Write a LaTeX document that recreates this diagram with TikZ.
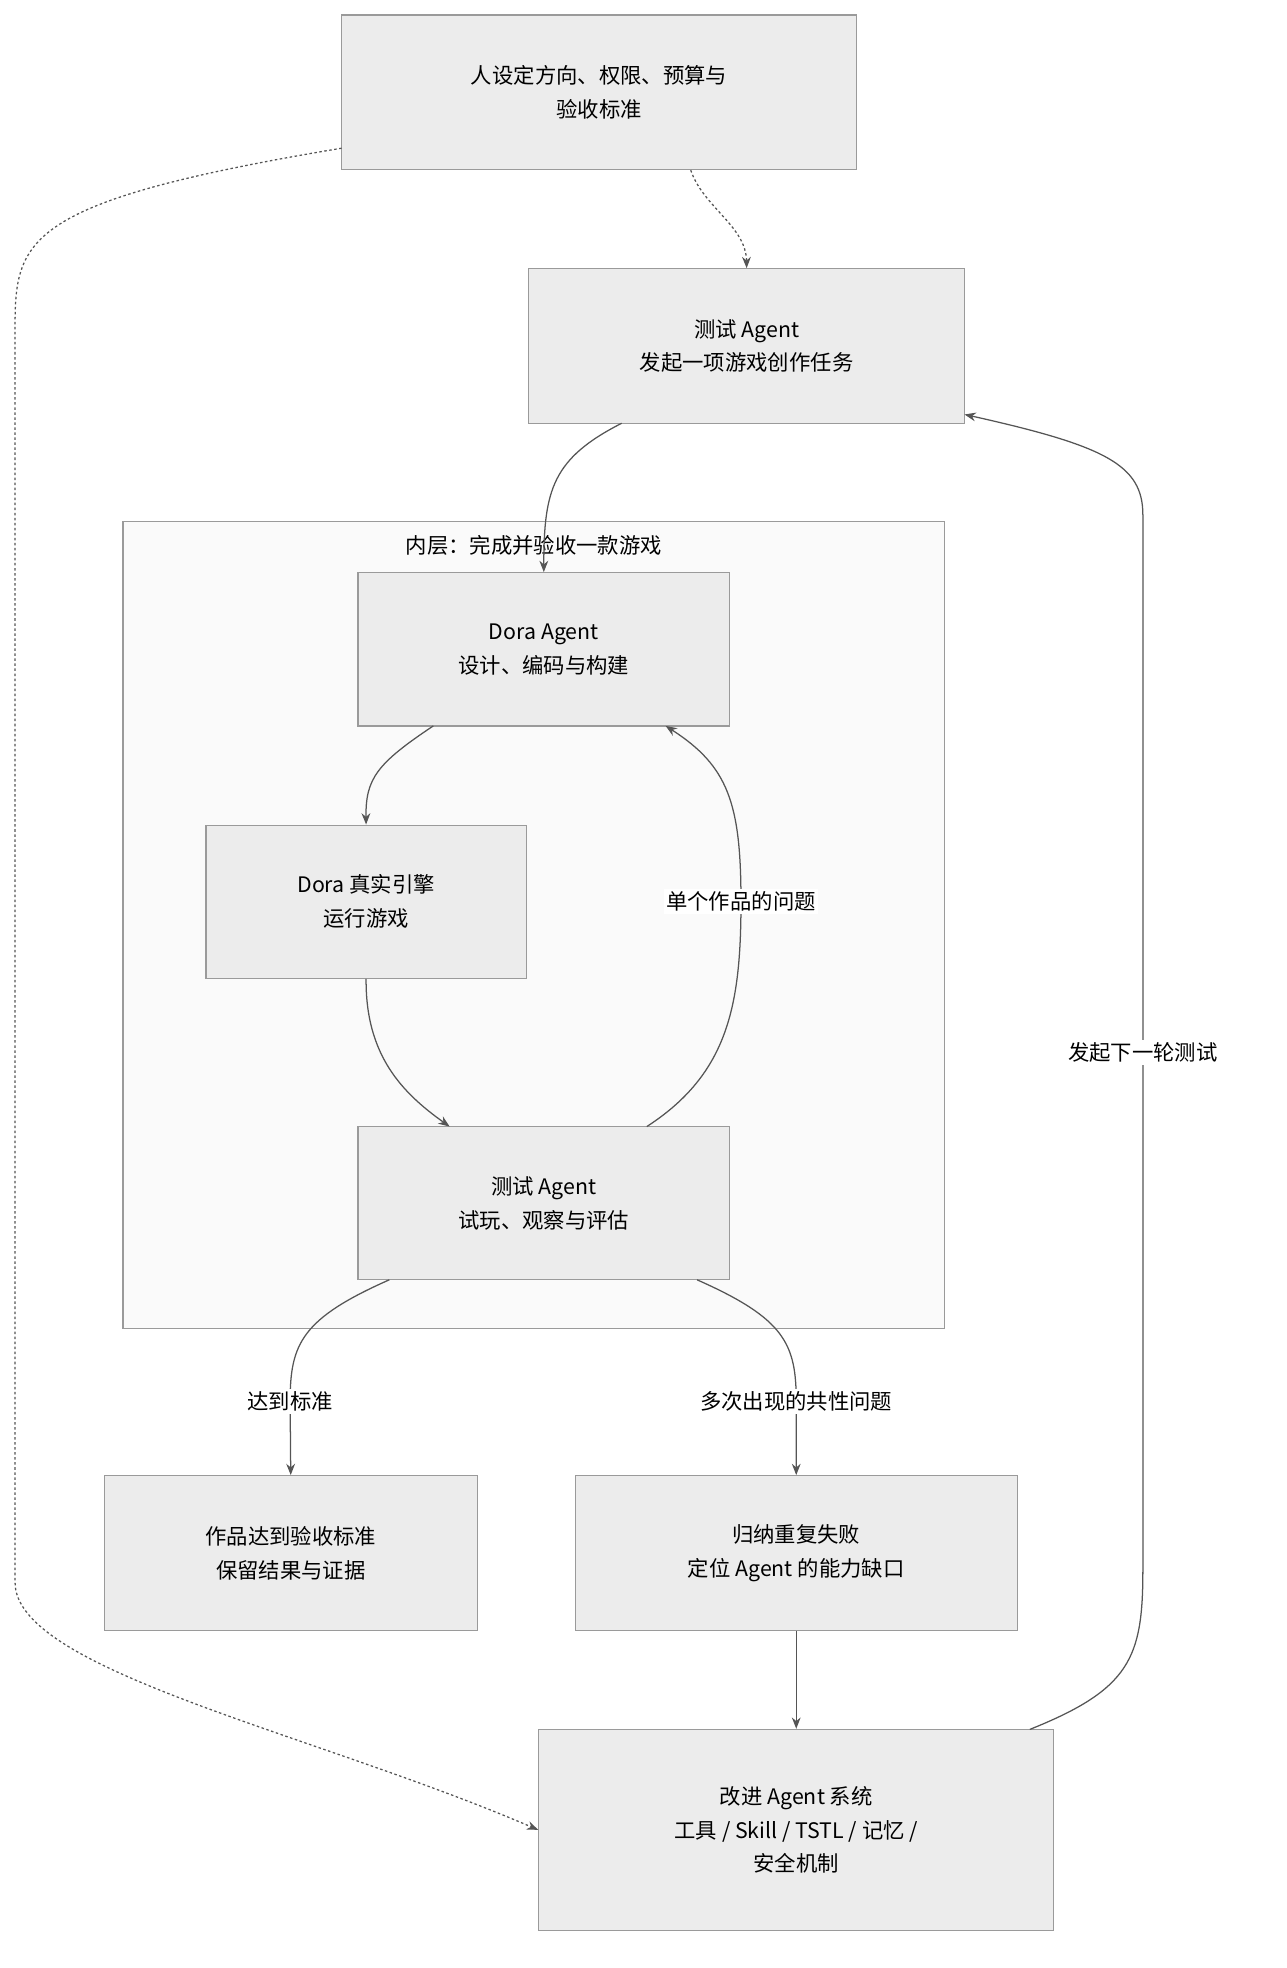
\documentclass[tikz,border=0pt]{standalone}
\usepackage{fontspec}
\setmainfont{Noto Sans CJK SC}
\usetikzlibrary{arrows.meta}
\definecolor{nfill}{HTML}{ECECEC}
\definecolor{nline}{HTML}{9A9A9A}
\definecolor{cfill}{HTML}{FAFAFA}
\definecolor{eline}{HTML}{555555}
\begin{document}
\begin{tikzpicture}[x=1pt,y=-1pt,
  box/.style={draw=nline,fill=nfill,line width=1pt,align=center,font=\fontsize{17}{27}\selectfont,inner sep=0pt},
  edge/.style={draw=eline,line width=1pt,-{Stealth[length=9pt,width=7pt]}},
  dot/.style={edge,dash pattern=on 2pt off 2pt},
  lab/.style={fill=white,font=\fontsize{17}{22}\selectfont,inner sep=2pt}]
\useasboundingbox (0,0) rectangle (1024,1567);
\node[draw=nline,fill=cfill,line width=1pt,minimum width=654pt,minimum height=643pt,inner sep=0pt] (cl) at (425,736.5) {};
\node[font=\fontsize{17}{22}\selectfont] (clt) at (425,434) {内层：完成并验收一款游戏};
\node[box,minimum width=410pt,minimum height=123pt] (top) at (477,73.5) {人设定方向、权限、预算与\\验收标准};
\node[box,minimum width=347pt,minimum height=123pt] (t1) at (594.5,275.5) {测试 Agent\\发起一项游戏创作任务};
\node[box,minimum width=296pt,minimum height=122pt] (dora) at (433,517) {Dora Agent\\设计、编码与构建};
\node[box,minimum width=255pt,minimum height=122pt] (eng) at (291.5,718) {Dora 真实引擎\\运行游戏};
\node[box,minimum width=296pt,minimum height=122pt] (t2) at (433,958) {测试 Agent\\试玩、观察与评估};
\node[box,minimum width=297pt,minimum height=123pt] (res) at (231.5,1236.5) {作品达到验收标准\\保留结果与证据};
\node[box,minimum width=352pt,minimum height=123pt] (gen) at (634,1236.5) {归纳重复失败\\定位 Agent 的能力缺口};
\node[box,minimum width=410pt,minimum height=160pt] (imp) at (634,1457) {改进 Agent 系统\\工具 / Skill / TSTL / 记忆 /\\安全机制};
\coordinate (a1) at (550,135.5);
\draw[dot] (a1) .. controls (560,165) and (594,180) .. (t1.north);
\coordinate (a2) at (272,118);
\draw[dot] (a2) .. controls (20,160) and (12,190) .. (12,260) -- (12,1260) .. controls (12,1330) and (250,1380) .. (imp.west);
\coordinate (b1) at (495,337);
\draw[edge] (b1) .. controls (440,365) and (433,390) .. (dora.north);
\coordinate (b2) at (345,578);
\draw[edge] (b2) .. controls (300,608) and (291,620) .. (eng.north);
\draw[edge] (eng.south) .. controls (291,840) and (320,870) .. (358,897);
\coordinate (b3) at (515,897);
\coordinate (b4) at (530,578);
\draw[edge] (b3) .. controls (580,855) and (590,800) .. (590,718) .. controls (590,640) and (580,610) .. (b4);
\node[lab] (l1) at (590,718) {单个作品的问题};
\coordinate (c1) at (310,1019);
\draw[edge] (c1) .. controls (240,1050) and (231,1070) .. (231,1116) -- (res.north);
\node[lab] (l2) at (231,1116) {达到标准};
\coordinate (c2) at (555,1019);
\draw[edge] (c2) .. controls (625,1050) and (634,1070) .. (634,1116) -- (gen.north);
\node[lab] (l3) at (634,1116) {多次出现的共性问题};
\draw[edge] (gen.south) -- (imp.north);
\coordinate (d1) at (820,1377);
\coordinate (d2) at (768,330);
\draw[edge] (d1) .. controls (900,1345) and (910,1320) .. (910,1250) -- (910,410) .. controls (910,370) and (880,355) .. (d2);
\node[lab] (l4) at (910,838) {发起下一轮测试};
\end{tikzpicture}
\end{document}
